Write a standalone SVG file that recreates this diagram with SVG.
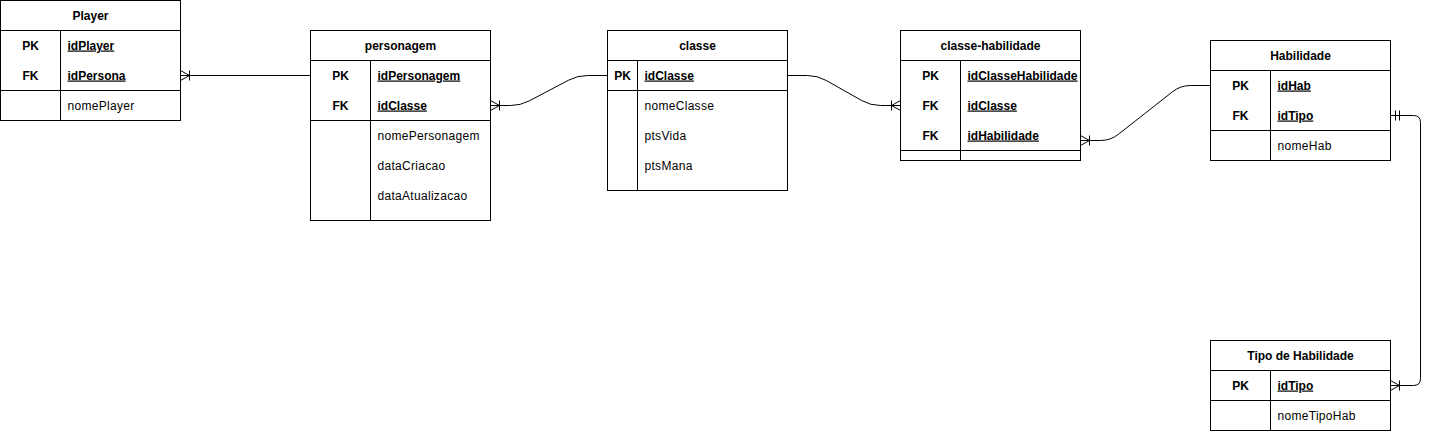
<svg xmlns="http://www.w3.org/2000/svg" width="1431" height="432" viewBox="0 0 1431 432">
<style>
  .box{fill:#fff;stroke:#000;stroke-width:1}
  .ln{fill:none;stroke:#000;stroke-width:1}
  text{font-family:"Liberation Sans",Arial,Helvetica,sans-serif;font-size:12px;fill:#000;letter-spacing:0.3px}
  .title{font-weight:bold;text-anchor:middle;letter-spacing:0}
  .kt{font-weight:bold;text-anchor:middle;letter-spacing:0}
  .key{font-weight:bold;text-decoration:underline;letter-spacing:0}
  .conn{fill:none;stroke:#000;stroke-width:1}
</style>
<defs>
  <marker id="many" markerUnits="userSpaceOnUse" markerWidth="20" markerHeight="20" viewBox="-15 -10 20 20" refX="0" refY="0" orient="auto-start-reverse" overflow="visible">
    <path d="M0,-5 L-9,0 L0,5 M-9,-5 V5" fill="none" stroke="#000" stroke-width="1"/>
  </marker>
  <marker id="one" markerUnits="userSpaceOnUse" markerWidth="20" markerHeight="20" viewBox="-15 -10 20 20" refX="0" refY="0" orient="auto-start-reverse" overflow="visible">
    <path d="M-5,-5 V5 M-9,-5 V5" fill="none" stroke="#000" stroke-width="1"/>
  </marker>
</defs>

<g id="connectors">
  <path class="conn" d="M180.5,75.5 L310.5,75.5" marker-start="url(#many)"/>
  <path class="conn" d="M490.5,105.5 L510.5,105.5 Q520.5,105.5 529.35,100.84 L568.65,80.16 Q577.5,75.5 587.5,75.5 L607.5,75.5" marker-start="url(#many)"/>
  <path class="conn" d="M787.5,75.5 L807.5,75.5 Q817.5,75.5 826.2,80.43 L861.8,100.57 Q870.5,105.5 880.5,105.5 L900.5,105.5" marker-end="url(#many)"/>
  <path class="conn" d="M1080.5,140.5 L1100.5,140.5 Q1110.5,140.5 1118.36,134.32 L1172.64,91.68 Q1180.5,85.5 1190.5,85.5 L1210.5,85.5" marker-start="url(#many)"/>
  <path class="conn" d="M1390.5,115.5 L1413.5,115.5 Q1420.5,115.5 1420.5,122.5 L1420.5,378.5 Q1420.5,385.5 1413.5,385.5 L1390.5,385.5" marker-start="url(#one)" marker-end="url(#many)"/>
</g>

<g id="player">
  <rect class="box" x="0.5" y="0.5" width="180" height="120"/>
  <path class="ln" d="M0.5,30.5 H180.5 M60.5,30.5 V120.5 M0.5,90.5 H180.5"/>
  <text class="title" x="90.5" y="19.5">Player</text>
  <text class="kt" x="30.5" y="49.5">PK</text>
  <text class="key" x="67.5" y="49.5">idPlayer</text>
  <text class="kt" x="30.5" y="79.5">FK</text>
  <text class="key" x="67.5" y="79.5">idPersona</text>
  <text x="67.5" y="109.5">nomePlayer</text>
</g>

<g id="personagem">
  <rect class="box" x="310.5" y="30.5" width="180" height="190"/>
  <path class="ln" d="M310.5,60.5 H490.5 M370.5,60.5 V220.5 M310.5,120.5 H490.5"/>
  <text class="title" x="400.5" y="49.5">personagem</text>
  <text class="kt" x="340.5" y="79.5">PK</text>
  <text class="key" x="377.5" y="79.5">idPersonagem</text>
  <text class="kt" x="340.5" y="109.5">FK</text>
  <text class="key" x="377.5" y="109.5">idClasse</text>
  <text x="377.5" y="139.5">nomePersonagem</text>
  <text x="377.5" y="169.5">dataCriacao</text>
  <text x="377.5" y="199.5">dataAtualizacao</text>
</g>

<g id="classe">
  <rect class="box" x="607.5" y="30.5" width="180" height="160"/>
  <path class="ln" d="M607.5,60.5 H787.5 M637.5,60.5 V190.5 M607.5,90.5 H787.5"/>
  <text class="title" x="697.5" y="49.5">classe</text>
  <text class="kt" x="622.5" y="79.5">PK</text>
  <text class="key" x="644.5" y="79.5">idClasse</text>
  <text x="644.5" y="109.5">nomeClasse</text>
  <text x="644.5" y="139.5">ptsVida</text>
  <text x="644.5" y="169.5">ptsMana</text>
</g>

<g id="classe-habilidade">
  <rect class="box" x="900.5" y="30.5" width="180" height="130"/>
  <path class="ln" d="M900.5,60.5 H1080.5 M960.5,60.5 V160.5 M900.5,150.5 H1080.5"/>
  <text class="title" x="990.5" y="49.5">classe-habilidade</text>
  <text class="kt" x="930.5" y="79.5">PK</text>
  <text class="key" x="967.5" y="79.5">idClasseHabilidade</text>
  <text class="kt" x="930.5" y="109.5">FK</text>
  <text class="key" x="967.5" y="109.5">idClasse</text>
  <text class="kt" x="930.5" y="139.5">FK</text>
  <text class="key" x="967.5" y="139.5">idHabilidade</text>
</g>

<g id="habilidade">
  <rect class="box" x="1210.5" y="40.5" width="180" height="120"/>
  <path class="ln" d="M1210.5,70.5 H1390.5 M1270.5,70.5 V160.5 M1210.5,130.5 H1390.5"/>
  <text class="title" x="1300.5" y="59.5">Habilidade</text>
  <text class="kt" x="1240.5" y="89.5">PK</text>
  <text class="key" x="1277.5" y="89.5">idHab</text>
  <text class="kt" x="1240.5" y="119.5">FK</text>
  <text class="key" x="1277.5" y="119.5">idTipo</text>
  <text x="1277.5" y="149.5">nomeHab</text>
</g>

<g id="tipo-de-habilidade">
  <rect class="box" x="1210.5" y="340.5" width="180" height="90"/>
  <path class="ln" d="M1210.5,370.5 H1390.5 M1270.5,370.5 V430.5 M1210.5,400.5 H1390.5"/>
  <text class="title" x="1300.5" y="359.5">Tipo de Habilidade</text>
  <text class="kt" x="1240.5" y="389.5">PK</text>
  <text class="key" x="1277.5" y="389.5">idTipo</text>
  <text x="1277.5" y="419.5">nomeTipoHab</text>
</g>
</svg>
